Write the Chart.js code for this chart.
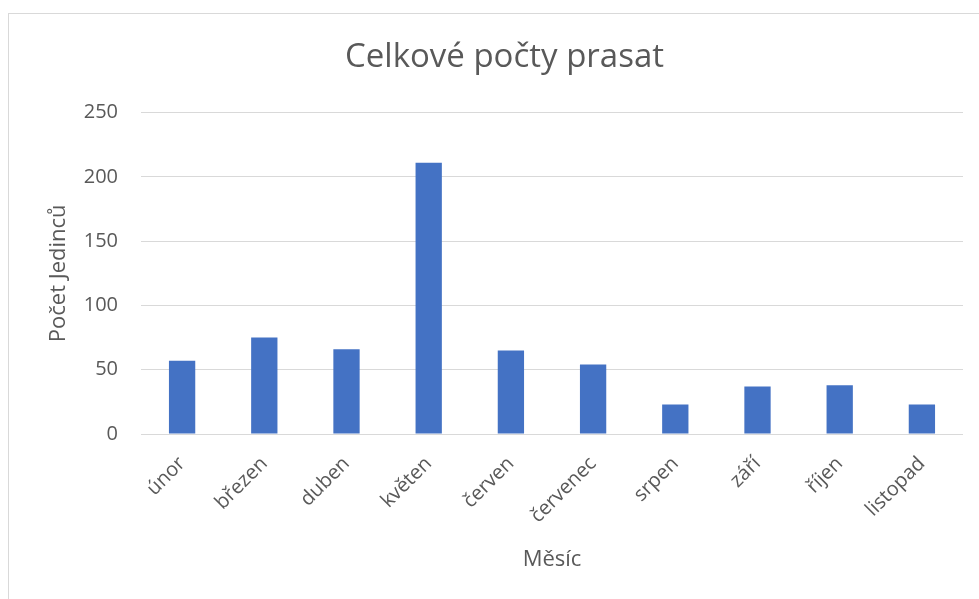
<!DOCTYPE html>
<html>
<head>
<meta charset="utf-8">
<title>Celkové počty prasat</title>
<script src="https://cdn.jsdelivr.net/npm/chart.js@4"></script>
<style>
  html, body { margin: 0; padding: 0; background: #fff; overflow: hidden; }
  #wrap { position: relative; width: 979px; height: 599px; }
  #frame {
    position: absolute; left: 8px; top: 13px; width: 1200px; height: 1200px;
    border-left: 1px solid #d9d9d9; border-top: 1px solid #d9d9d9;
  }
  #chart { position: absolute; left: 0; top: 0; }
</style>
</head>
<body>
<div id="wrap">
  <div id="frame"></div>
  <canvas id="chart" width="979" height="599"></canvas>
</div>
<script>
// data
const months = ["únor", "březen", "duben", "květen", "červen", "červenec", "srpen", "září", "říjen", "listopad"];
const pigCounts = [57, 75, 66, 211, 65, 54, 23, 37, 38, 23];
const yTicks = [0, 50, 100, 150, 200, 250];

const textColor = "#595959";
const gridColor = "#d9d9d9";
const fontFamily = "'Open Sans', sans-serif";

const ctx = document.getElementById("chart").getContext("2d");
new Chart(ctx, {
  type: "bar",
  data: {
    labels: months,
    datasets: [
      {
        label: "Počet",
        data: pigCounts,
        backgroundColor: "#4472c4",
        barPercentage: 0.32,
        categoryPercentage: 1,
      },
    ],
  },
  options: {
    responsive: false,
    animation: false,
    devicePixelRatio: 1,
    layout: {
      padding: { left: 46, right: 16, top: 0, bottom: 26 },
    },
    plugins: {
      legend: { display: false },
      tooltip: { enabled: false },
      title: {
        display: true,
        text: "Celkové počty prasat",
        color: textColor,
        font: { family: fontFamily, size: 33, weight: "normal" },
        padding: { top: 38, bottom: 35 },
      },
    },
    scales: {
      x: {
        grid: { display: false },
        border: { display: false },
        ticks: {
          color: textColor,
          font: { family: fontFamily, size: 20 },
          minRotation: 45,
          maxRotation: 45,
          padding: 10,
        },
        title: {
          display: true,
          text: "Měsíc",
          color: textColor,
          font: { family: fontFamily, size: 22 },
          padding: 0,
        },
        afterFit: (scale) => {
          scale.height = 139;
        },
      },
      y: {
        min: 0,
        max: yTicks[yTicks.length - 1],
        grid: { color: gridColor, lineWidth: 1, drawTicks: false },
        border: { display: false },
        afterBuildTicks: (scale) => {
          scale.ticks = yTicks.map((v) => ({ value: v }));
        },
        ticks: {
          color: textColor,
          font: { family: fontFamily, size: 20 },
          padding: 23,
        },
        title: {
          display: true,
          text: "Počet Jedinců",
          color: textColor,
          font: { family: fontFamily, size: 22 },
          padding: 0,
        },
        afterFit: (scale) => {
          scale.width = 95;
        },
      },
    },
  },
});
</script>
</body>
</html>
